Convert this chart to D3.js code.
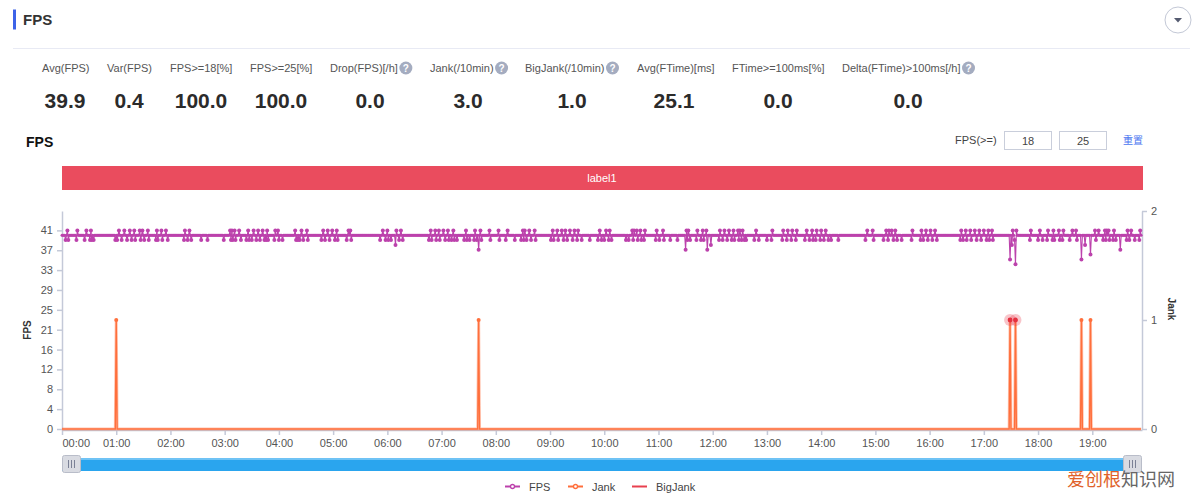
<!DOCTYPE html>
<html>
<head>
<meta charset="utf-8">
<title>FPS</title>
<script src="https://cdn.jsdelivr.net/npm/d3@7"></script>
<style>
html, body { margin: 0; padding: 0; background: #fff; }
svg { display: block; font-family: "Liberation Sans", Arial, sans-serif; }
.axis path, .axis line { stroke: #c4c9d8; stroke-width: 1.5; }
.axis text { fill: #555; font-size: 11px; font-family: "Liberation Sans", Arial, sans-serif; }
</style>
</head>
<body>
<svg id="chart" width="1200" height="498"></svg>
<script>
const width = 1200;
const height = 498;

// stats row
const statNames = ["Avg(FPS)", "Var(FPS)", "FPS>=18[%]", "FPS>=25[%]", "Drop(FPS)[/h]", "Jank(/10min)", "BigJank(/10min)", "Avg(FTime)[ms]", "FTime>=100ms[%]", "Delta(FTime)>100ms[/h]"];
const statValues = ["39.9", "0.4", "100.0", "100.0", "0.0", "3.0", "1.0", "25.1", "0.0", "0.0"];
const statHelp = [false, false, false, false, true, true, true, false, false, true];
const statLeft = [42, 107, 170, 250, 330, 430, 525, 637, 732, 842];
const statCenter = [65, 129, 201, 281, 370, 468, 572, 674, 778, 908];

// time axis, in minutes from 00:00
const lastMinute = 1195;
const hourTicks = d3.range(0, 20).map(h => h * 60);
const hourLabels = ["00:00", "01:00", "02:00", "03:00", "04:00", "05:00", "06:00", "07:00", "08:00", "09:00", "10:00", "11:00", "12:00", "13:00", "14:00", "15:00", "16:00", "17:00", "18:00", "19:00"];
const fpsTicks = [0, 4.1, 8.2, 12.3, 16.4, 20.5, 24.6, 28.7, 32.8, 36.9, 41];
const jankTicks = [0, 1, 2];

// minutes where FPS reads 41
const fpsUp = [6,17,27,32,63,69,75,80,86,89,95,105,110,115,136,141,186,188,191,196,206,212,217,222,227,236,239,258,
  265,271,289,294,299,304,317,319,355,360,370,375,408,413,417,422,427,433,447,457,463,473,483,493,510,512,517,523,543,548,553,557,562,567,571,
  595,602,606,631,633,636,640,645,658,665,691,693,703,709,713,728,733,738,743,748,750,753,768,786,798,803,808,813,824,830,835,840,845,891,897,912,915,918,922,
  941,951,956,961,966,995,1000,1005,1010,1015,1020,1025,1029,1052,1056,1072,1082,1091,1097,1103,1108,1118,1122,1143,1147,1154,1156,1158,1164,1179,1183,1193];
// minutes where FPS reads 39
const fpsDown = [4,7,16,25,31,33,35,59,61,66,72,77,81,87,91,96,104,106,111,117,135,139,143,154,161,179,187,189,192,198,204,207,210,215,219,224,226,228,235,240,244,259,261,
  263,267,272,287,291,296,302,305,315,320,352,358,361,364,373,377,406,409,414,418,424,428,431,434,437,445,448,451,456,459,464,474,484,491,501,508,511,514,519,524,541,544,549,555,559,565,570,575,584,593,
  597,600,605,608,624,627,632,637,641,644,657,661,666,673,681,692,695,702,707,710,727,731,736,741,744,749,752,755,757,766,771,780,785,797,802,807,812,822,827,831,834,839,843,848,851,859,889,898,909,914,920,924,
  929,940,950,953,958,963,968,994,997,1001,1006,1012,1017,1023,1026,1030,1054,1071,1080,1085,1090,1096,1098,1104,1107,1115,1123,1144,1152,1155,1159,1163,1166,1178,1181,1187,1192];
// the deeper drops
const fpsDropMinutes = [369, 461, 690, 714, 718, 1049, 1051, 1055, 1128, 1132, 1138, 1171];
const fpsDropValues = [38, 37, 37, 37, 38, 35, 38, 34, 35, 38, 36, 37];

const jankMinutes = [60, 461, 1049, 1055, 1128, 1138];
const bigJankMinutes = [1049, 1055];

const fpsColor = "#bc42ac";
const jankColor = "#ff6f3c";
const bigJankColor = "#e8404f";

const fpsAt = new Map();
fpsUp.forEach(m => fpsAt.set(m, 41));
fpsDown.forEach(m => fpsAt.set(m, 39));
fpsDropMinutes.forEach((m, i) => fpsAt.set(m, fpsDropValues[i]));

const minutes = d3.range(0, lastMinute);
const fpsData = minutes.map(m => ({ t: m, v: fpsAt.has(m) ? fpsAt.get(m) : 40 }));
const jankData = minutes.map(m => ({ t: m, v: jankMinutes.includes(m) ? 1 : 0 }));

const svg = d3.select("#chart");

// page header
svg.append("rect").attr("x", 13).attr("y", 9.5).attr("width", 3).attr("height", 20).attr("fill", "#3d63e8");
svg.append("text").attr("x", 23).attr("y", 25).attr("font-size", 15).attr("font-weight", "bold").attr("fill", "#333").text("FPS");
svg.append("line").attr("x1", 13).attr("x2", 1190).attr("y1", 48.5).attr("y2", 48.5).attr("stroke", "#e8eaf4");
svg.append("circle").attr("cx", 1178).attr("cy", 20).attr("r", 13).attr("fill", "#fff").attr("stroke", "#c3c8d6");
svg.append("path").attr("d", "M1174,18 L1182,18 L1178,22.5 Z").attr("fill", "#555b70");

// stats
statNames.forEach((name, i) => {
  const label = svg.append("text").attr("x", statLeft[i]).attr("y", 72).attr("font-size", 11).attr("fill", "#555").text(name);
  if (statHelp[i]) {
    const w = label.node().getComputedTextLength();
    const cx = statLeft[i] + w + 8;
    svg.append("circle").attr("cx", cx).attr("cy", 68).attr("r", 6.5).attr("fill", "#a4acc0");
    svg.append("text").attr("x", cx).attr("y", 72).attr("text-anchor", "middle").attr("font-size", 10).attr("font-weight", "bold").attr("fill", "#fff").text("?");
  }
  svg.append("text").attr("x", statCenter[i]).attr("y", 108).attr("text-anchor", "middle").attr("font-size", 21).attr("font-weight", "bold").attr("fill", "#2b2b2b").text(statValues[i]);
});

// chart title and controls
svg.append("text").attr("x", 26).attr("y", 147).attr("font-size", 14).attr("font-weight", "bold").attr("fill", "#111").text("FPS");
svg.append("text").attr("x", 955).attr("y", 144).attr("font-size", 11).attr("fill", "#444").text("FPS(>=)");
[[1004, "18"], [1059, "25"]].forEach(d => {
  svg.append("rect").attr("x", d[0] + 0.5).attr("y", 131.5).attr("width", 47).attr("height", 18).attr("fill", "#fff").attr("stroke", "#c9cedb");
  svg.append("text").attr("x", d[0] + 24).attr("y", 145).attr("text-anchor", "middle").attr("font-size", 11).attr("fill", "#444").text(d[1]);
});
svg.append("text").attr("x", 1123).attr("y", 144).attr("font-size", 10).attr("fill", "#4a76f0").attr("font-family", "'Noto Sans CJK SC'").text("重置");

// label band
svg.append("rect").attr("x", 62).attr("y", 166).attr("width", 1081).attr("height", 24).attr("fill", "#ea4c5e");
svg.append("text").attr("x", 602).attr("y", 182).attr("text-anchor", "middle").attr("font-size", 11).attr("fill", "#fff").text("label1");

// scales
const x = d3.scaleLinear().domain([0, lastMinute]).range([62, 1142]);
const yFps = d3.scaleLinear().domain([0, 45]).range([429, 211]);
const yJank = d3.scaleLinear().domain([0, 2]).range([429, 211]);

const xAxis = d3.axisBottom(x).tickValues(hourTicks).tickFormat((d, i) => hourLabels[i]).tickSize(5).tickPadding(4).tickSizeOuter(0);
const leftAxis = d3.axisLeft(yFps).tickValues(fpsTicks).tickFormat(d3.format(".0f")).tickSize(5).tickPadding(4).tickSizeOuter(0);
const rightAxis = d3.axisRight(yJank).tickValues(jankTicks).tickFormat(d3.format("d")).tickSize(5).tickPadding(4).tickSizeOuter(0);

const gx = svg.append("g").attr("class", "axis").attr("transform", "translate(0,430)").call(xAxis);
gx.select(".tick text").attr("text-anchor", "start");
svg.append("g").attr("class", "axis").attr("transform", "translate(62,0)").call(leftAxis);
svg.append("g").attr("class", "axis").attr("transform", "translate(1142,0)").call(rightAxis);

svg.append("text").attr("transform", "translate(31,330) rotate(-90)").attr("text-anchor", "middle").attr("font-size", 10).attr("font-weight", "bold").attr("fill", "#333").text("FPS");
svg.append("text").attr("transform", "translate(1168,309) rotate(90)").attr("text-anchor", "middle").attr("font-size", 10).attr("font-weight", "bold").attr("fill", "#333").text("Jank");

// jank series
const jankLine = d3.line().x(d => x(d.t)).y(d => yJank(d.v));
svg.append("path").datum(jankData).attr("d", jankLine).attr("fill", "none").attr("stroke", jankColor).attr("stroke-opacity", 0.4).attr("stroke-width", 3);
svg.append("path").datum(jankData).attr("d", jankLine).attr("fill", "none").attr("stroke", jankColor).attr("stroke-width", 1.4);
svg.selectAll(".jank-dot").data(jankData.filter(d => d.v > 0)).enter().append("circle")
  .attr("class", "jank-dot")
  .attr("cx", d => x(d.t)).attr("cy", d => yJank(d.v)).attr("r", 2).attr("fill", jankColor);

// big jank highlights
svg.selectAll(".big-halo").data(bigJankMinutes).enter().append("circle")
  .attr("class", "big-halo")
  .attr("cx", d => x(d)).attr("cy", yJank(1)).attr("r", 6).attr("fill", bigJankColor).attr("fill-opacity", 0.3);
svg.selectAll(".big-dot").data(bigJankMinutes).enter().append("circle")
  .attr("class", "big-dot")
  .attr("cx", d => x(d)).attr("cy", yJank(1)).attr("r", 2.4).attr("fill", "#e5303f");

// fps series
const fpsLine = d3.line().x(d => x(d.t)).y(d => yFps(d.v));
svg.append("path").datum(fpsData).attr("d", fpsLine).attr("fill", "none").attr("stroke", fpsColor).attr("stroke-width", 1.1);
svg.selectAll(".fps-dot").data(fpsData).enter().append("circle")
  .attr("class", "fps-dot")
  .attr("cx", d => x(d.t)).attr("cy", d => yFps(d.v)).attr("r", d => d.v === 40 ? 1.5 : 2).attr("fill", fpsColor);

// slider
svg.append("rect").attr("x", 62).attr("y", 458).attr("width", 1080).attr("height", 13).attr("fill", "#2aa5ee");
svg.append("rect").attr("x", 62).attr("y", 458).attr("width", 1080).attr("height", 2).attr("fill", "#6fc3f5");
[62, 1123].forEach(hx => {
  svg.append("rect").attr("x", hx + 0.5).attr("y", 455.5).attr("width", 18).attr("height", 17).attr("rx", 2).attr("fill", "#d9dbe2").attr("stroke", "#b9bdc9");
  [6, 9, 12].forEach(o => {
    svg.append("line").attr("x1", hx + o + 0.5).attr("x2", hx + o + 0.5).attr("y1", 460).attr("y2", 468).attr("stroke", "#7b8196");
  });
});

// legend
const legendNames = ["FPS", "Jank", "BigJank"];
const legendColors = [fpsColor, jankColor, bigJankColor];
const legendX = [505, 568, 632];
legendNames.forEach((name, i) => {
  const lx = legendX[i];
  svg.append("line").attr("x1", lx).attr("x2", lx + 15).attr("y1", 486.5).attr("y2", 486.5).attr("stroke", legendColors[i]).attr("stroke-width", 2);
  if (i < 2) {
    svg.append("circle").attr("cx", lx + 7.5).attr("cy", 486.5).attr("r", 2).attr("fill", "#fff").attr("stroke", legendColors[i]).attr("stroke-width", 1.3);
  }
  svg.append("text").attr("x", lx + 24).attr("y", 490.5).attr("font-size", 11).attr("fill", "#444").text(name);
});

// watermark in the picture
svg.append("text").attr("x", 1067).attr("y", 486).attr("font-size", 18).attr("font-family", "'Noto Sans CJK SC'").attr("fill", "#e0622a").text("爱创根");
svg.append("text").attr("x", 1121).attr("y", 486).attr("font-size", 18).attr("font-family", "'Noto Sans CJK SC'").attr("fill", "#666").text("知识网");
</script>
</body>
</html>
